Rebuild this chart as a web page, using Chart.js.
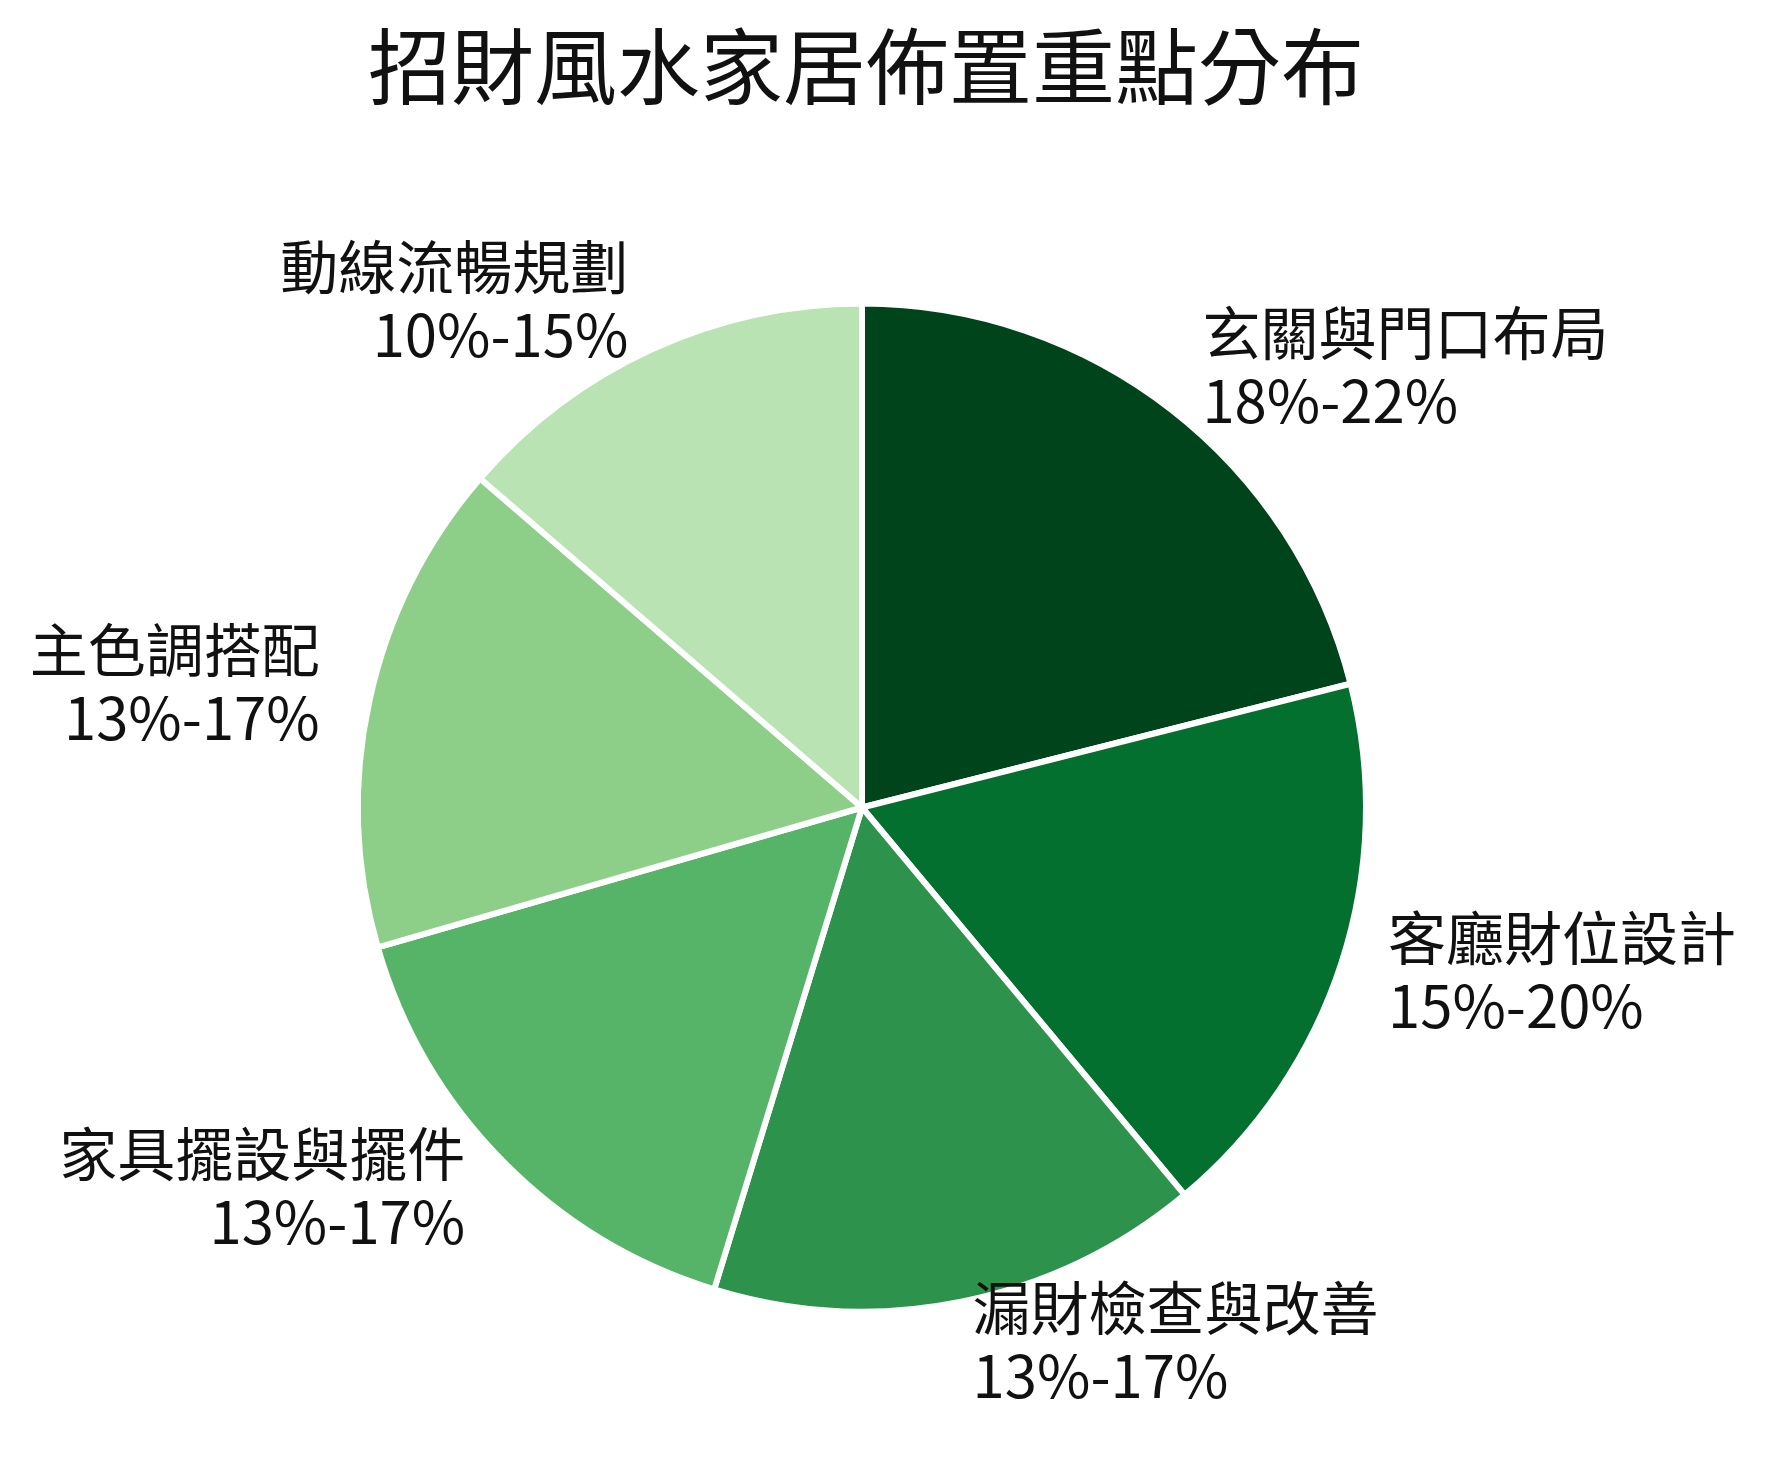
<!DOCTYPE html>
<html lang="zh-Hant">
<head>
<meta charset="utf-8">
<title>招財風水家居佈置重點分布</title>
<script src="https://cdn.jsdelivr.net/npm/chart.js@4.4.1/dist/chart.umd.min.js"></script>
<style>
  html, body { margin: 0; padding: 0; background: #ffffff; }
  #wrap { width: 1769px; height: 1468px; }
</style>
</head>
<body>
<div id="wrap"><canvas id="fengshuiChart" width="1769" height="1468"></canvas></div>
<script>
// === Data ===
const chartTitle = '招財風水家居佈置重點分布';
const categories = ['玄關與門口布局', '客廳財位設計', '漏財檢查與改善', '家具擺設與擺件', '主色調搭配', '動線流暢規劃'];
const ranges = ['18%-22%', '15%-20%', '13%-17%', '13%-17%', '13%-17%', '10%-15%'];
const weights = [20, 17, 15, 15, 15, 13];
const sliceColors = ['#00441b', '#04702f', '#2c924c', '#55b467', '#8dcf88', '#b9e3b3'];

const FONT = '"Noto Sans CJK TC", "Noto Sans CJK SC", "Noto Sans", sans-serif';

// draws the title and the two-line labels outside each slice
const labelPlugin = {
  id: 'outsideLabels',
  afterDraw(chart) {
    const ctx = chart.ctx;
    const area = chart.chartArea;
    ctx.save();
    ctx.fillStyle = '#111111';
    ctx.font = '83px ' + FONT;
    ctx.textAlign = 'center';
    ctx.textBaseline = 'middle';
    ctx.fillText(chartTitle, (area.left + area.right) / 2 + 4, 66);

    ctx.font = '58px ' + FONT;
    const arcs = chart.getDatasetMeta(0).data;
    arcs.forEach((arc, i) => {
      const mid = (arc.startAngle + arc.endAngle) / 2;
      const r = arc.outerRadius + 47;
      const cx = arc.x + Math.cos(mid) * r - 4;
      const cy = arc.y + Math.sin(mid) * r - 6;
      const right = Math.cos(mid) >= 0;
      ctx.textAlign = right ? 'left' : 'right';
      const x = right ? cx + 6 : cx;
      ctx.fillText(categories[i], x, cy - 34);
      ctx.fillText(ranges[i], x, cy + 34);
    });
    ctx.restore();
  }
};

new Chart(document.getElementById('fengshuiChart'), {
  type: 'pie',
  data: {
    labels: categories,
    datasets: [{
      data: weights,
      backgroundColor: sliceColors,
      borderColor: '#ffffff',
      borderWidth: 6,
      hoverOffset: 0
    }]
  },
  options: {
    responsive: false,
    animation: false,
    layout: { padding: { left: 355, right: 400, top: 300, bottom: 153 } },
    plugins: {
      legend: { display: false },
      title: { display: false },
      tooltip: { enabled: false }
    }
  },
  plugins: [labelPlugin]
});
</script>
</body>
</html>
